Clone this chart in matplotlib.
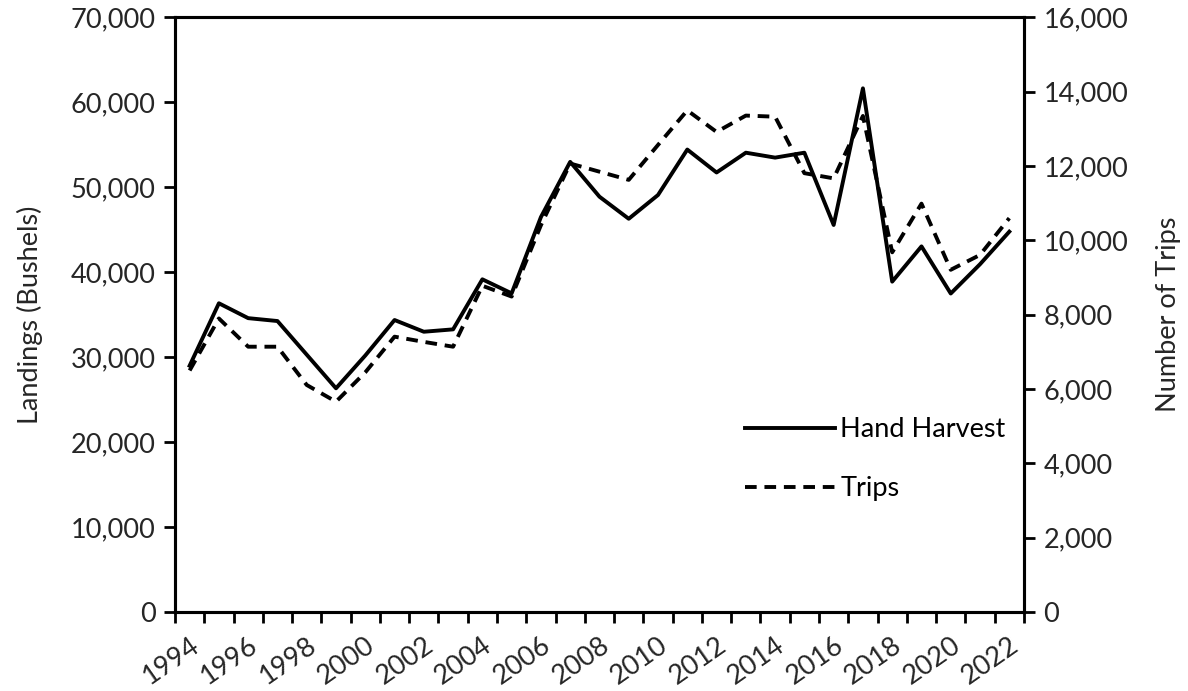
import numpy as np
import matplotlib
matplotlib.use("Agg")
import matplotlib.pyplot as plt
from matplotlib.ticker import FuncFormatter, FixedLocator

plt.rcParams['font.family'] = ['Lato', 'DejaVu Sans']

# Datos
years = list(range(1994, 2023))
landings = [29000, 36350, 34600, 34260, 30300, 26340, 30200, 34380, 33000, 33280,
            39170, 37520, 46500, 53000, 48900, 46300, 49100, 54450, 51750, 54080,
            53500, 54080, 45570, 61660, 38900, 43050, 37500, 40950, 44780]
trips = [6500, 7900, 7140, 7140, 6110, 5660, 6450, 7410, 7270, 7140,
         8780, 8490, 10410, 12070, 11850, 11630, 12570, 13500, 12920, 13360,
         13330, 11810, 11670, 13350, 9680, 10990, 9210, 9610, 10600]

fs = 19.5
lw = 2.8
col = 'black'
txt = '#262626'

fig = plt.figure(figsize=(11.88, 6.91), dpi=100)
ax = fig.add_axes([0.1473, 0.1143, 0.7146, 0.8604])
ax2 = ax.twinx()

x = np.arange(len(years))
l1, = ax.plot(x, landings, color=col, lw=lw, label="Hand Harvest")
l2, = ax2.plot(x, trips, color=col, lw=lw, linestyle=(0, (3, 2)), label="Trips")

ax.set_xlim(-0.5, len(years) - 0.5)
ax.set_ylim(0, 70000)
ax2.set_ylim(0, 16000)
ax.set_yticks(np.arange(0, 70001, 10000))
ax2.set_yticks(np.arange(0, 16001, 2000))
fmt = FuncFormatter(lambda v, p: "{:,.0f}".format(v))
ax.yaxis.set_major_formatter(fmt)
ax2.yaxis.set_major_formatter(fmt)

# marcas entre categorias, etiquetas cada dos años
ax.xaxis.set_major_locator(FixedLocator(np.arange(-0.5, len(years), 1.0)))
ax.xaxis.set_major_formatter(FuncFormatter(lambda v, p: ""))
lab_pos = x[::2]
ax.xaxis.set_minor_locator(FixedLocator(lab_pos))
ax.set_xticklabels([str(y) for y in years[::2]], minor=True)
for t in ax.get_xticklabels(minor=True):
    t.set_rotation(35)
    t.set_ha('right')
    t.set_rotation_mode('anchor')
ax.tick_params(axis='x', which='minor', length=0, pad=15, labelsize=fs, colors=txt)
ax.tick_params(axis='x', which='major', length=8, width=2, direction='out')
ax.tick_params(axis='y', length=8, width=2, direction='out', labelsize=fs, colors=txt, pad=6)
ax2.tick_params(axis='y', length=8, width=2, direction='out', labelsize=fs, colors=txt, pad=6)
for a in (ax, ax2):
    for s in a.spines.values():
        s.set_linewidth(2.2)
    a.tick_params(axis='both', which='both', color='black')

ax.set_ylabel("Landings (Bushels)", fontsize=fs, color=txt, labelpad=20)
ax2.set_ylabel("Number of Trips", fontsize=fs, color=txt, labelpad=20)

ax.legend([l1, l2], ["Hand Harvest", "Trips"], loc='upper left',
          bbox_to_anchor=(0.656, 0.35), frameon=False, fontsize=fs,
          handlelength=3.3, handletextpad=0.2, labelspacing=1.25, borderpad=0)

fig.savefig("out.png", dpi=100)
